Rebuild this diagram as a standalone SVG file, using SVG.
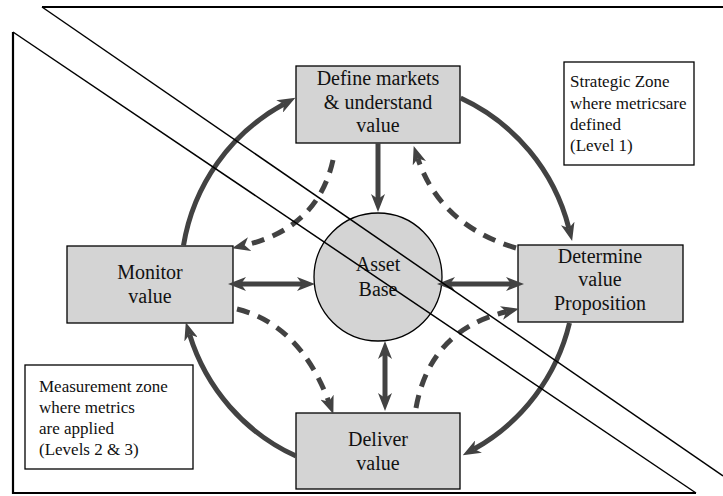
<svg xmlns="http://www.w3.org/2000/svg" width="723" height="496" viewBox="0 0 723 496">
<style>
.box{fill:#d4d4d4;stroke:#000;stroke-width:1.3}
.note{fill:#fff;stroke:#000;stroke-width:1.3}
.t{font-family:"Liberation Serif","Times New Roman",serif;font-size:20px;fill:#111;text-anchor:middle}
.n{font-family:"Liberation Serif","Times New Roman",serif;font-size:17px;fill:#111}
.c{fill:none;stroke:#424242;stroke-width:5}
.d{fill:none;stroke:#424242;stroke-width:5;stroke-dasharray:13,9}
.z{fill:none;stroke:#000;stroke-width:1.5}
.ze{fill:none;stroke:#000;stroke-width:2.2}
</style>
<defs>
<marker id="ah" viewBox="0 0 18 14" refX="5" refY="7" markerWidth="18" markerHeight="14" markerUnits="userSpaceOnUse" orient="auto-start-reverse">
<path d="M0,0 L18,7 L0,14 L5,7 z" fill="#424242"/>
</marker>
</defs>
<rect x="0" y="0" width="723" height="496" fill="#fff"/>

<g id="define">
<rect class="box" x="296" y="66" width="164" height="77"/>
<text class="t" x="378" y="85">Define markets</text>
<text class="t" x="378" y="108.5">&amp; understand</text>
<text class="t" x="378" y="132">value</text>
</g>
<g id="strategic-note">
<rect class="note" x="564" y="62" width="130" height="103"/>
<text class="n" x="570" y="87">Strategic Zone</text>
<text class="n" x="570" y="109">where metricsare</text>
<text class="n" x="570" y="130">defined</text>
<text class="n" x="570" y="151">(Level 1)</text>
</g>
<g id="monitor">
<rect class="box" x="67" y="246" width="166" height="77"/>
<text class="t" x="150" y="279">Monitor</text>
<text class="t" x="150" y="303">value</text>
</g>
<g id="asset">
<circle cx="378" cy="277" r="64" fill="#d4d4d4" stroke="#000" stroke-width="1.3"/>
<text class="t" x="378" y="271">Asset</text>
<text class="t" x="378" y="296">Base</text>
</g>
<g id="determine">
<rect class="box" x="518" y="245" width="165" height="77"/>
<text class="t" x="600" y="262.5">Determine</text>
<text class="t" x="600" y="286">value</text>
<text class="t" x="600" y="310">Proposition</text>
</g>
<g id="deliver">
<rect class="box" x="296" y="413" width="164" height="76"/>
<text class="t" x="378" y="446">Deliver</text>
<text class="t" x="378" y="470">value</text>
</g>
<g id="measurement-note">
<rect class="note" x="25" y="365" width="168" height="104"/>
<text class="n" x="39" y="392">Measurement zone</text>
<text class="n" x="39" y="413">where metrics</text>
<text class="n" x="39" y="434">are applied</text>
<text class="n" x="39" y="455">(Levels 2 &amp; 3)</text>
</g>

<g id="connectors">
<path class="c" d="M183.5,245.5 A197,197 0 0 1 284,104" marker-end="url(#ah)"/>
<path class="c" d="M460.6,98.1 A197,197 0 0 1 568.9,228.3" marker-end="url(#ah)"/>
<path class="c" d="M569.5,323 A197,197 0 0 1 474.1,449" marker-end="url(#ah)"/>
<path class="c" d="M296,456.1 A197,197 0 0 1 189.6,334.6" marker-end="url(#ah)"/>
<path class="c" d="M378,143 L378,199" marker-end="url(#ah)"/>
<path class="c" d="M241,284 L302,284" marker-start="url(#ah)" marker-end="url(#ah)"/>
<path class="c" d="M450,284 L511,284" marker-start="url(#ah)" marker-end="url(#ah)"/>
<path class="c" d="M385,354 L385,398" marker-start="url(#ah)" marker-end="url(#ah)"/>
<path class="d" d="M333,160 Q318,228 244.7,245.3" marker-end="url(#ah)"/>
<path class="d" d="M516,248 Q440,225 417.8,158.4" marker-end="url(#ah)"/>
<path class="d" d="M237,309 Q300,325 328.8,401.8" marker-end="url(#ah)"/>
<path class="d" d="M416,408 Q430,330 506.3,311.8" marker-end="url(#ah)"/>
</g>

<g id="zones">
<path class="ze" d="M42,7 L723,7"/>
<path class="z" d="M42,7 L723,476"/>
<path class="ze" d="M13,32 L13,494 M13,493 L696,493"/>
<path class="z" d="M13,32 L696,493"/>
</g>
</svg>
